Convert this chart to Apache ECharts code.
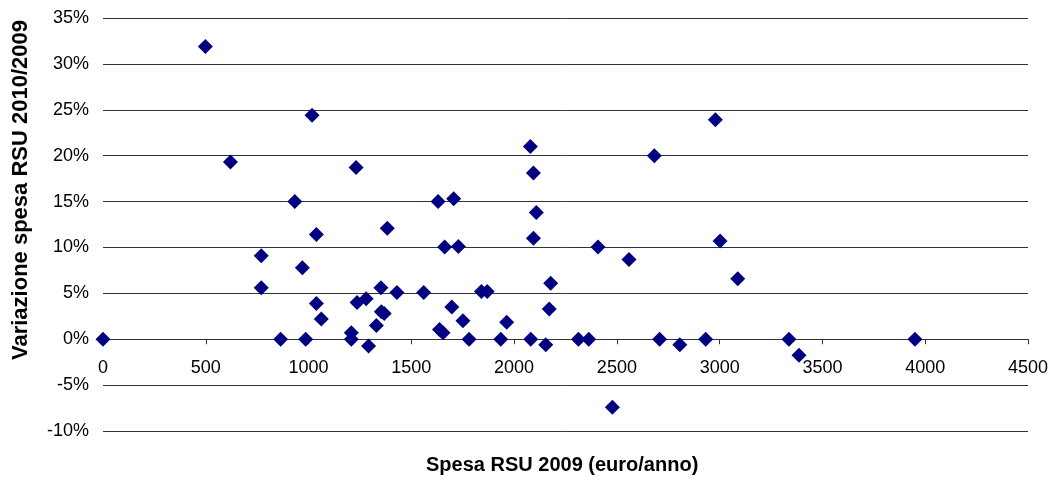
<!DOCTYPE html>
<html>
<head>
<meta charset="utf-8">
<script src="https://cdn.jsdelivr.net/npm/echarts@6/dist/echarts.min.js"></script>
<style>
  html, body { margin: 0; padding: 0; background: #ffffff; }
  #chart { width: 1056px; height: 480px; }
</style>
</head>
<body>
<div id="chart"></div>
<script>
// Spesa RSU 2009 (euro/anno) per comune
const spesa2009 = [
  0, 498, 620, 770, 770, 864, 933, 970, 986, 1017,
  1038, 1038, 1062, 1208, 1208, 1231, 1236, 1280, 1292, 1330,
  1352, 1354, 1368, 1383, 1430, 1560, 1630, 1637, 1654, 1662,
  1697, 1706, 1729, 1751, 1781, 1841, 1869, 1935, 1964, 2079,
  2081, 2094, 2094, 2108, 2154, 2171, 2178, 2313, 2363, 2408,
  2478, 2559, 2682, 2708, 2806, 2932, 2979, 3002, 3088, 3337,
  3386, 3950
];
// Variazione spesa RSU 2010/2009 (%)
const variazione = [
  0, 31.9, 19.3, 9.1, 5.6, 0, 15.0, 7.8, 0, 24.4,
  11.4, 3.9, 2.2, 0.7, 0, 18.7, 4.0, 4.4, -0.75, 1.5,
  5.6, 3.0, 2.8, 12.1, 5.1, 5.1, 15.0, 1.05, 0.7, 10.05,
  3.5, 15.3, 10.1, 2.0, 0, 5.2, 5.2, 0, 1.85, 21.0,
  0, 18.1, 11.0, 13.8, -0.6, 3.3, 6.1, 0, 0, 10.05,
  -7.4, 8.7, 20.0, 0, -0.6, 0, 23.9, 10.7, 6.6, 0,
  -1.75, 0
];
const xTitle = 'Spesa RSU 2009 (euro/anno)';
const yTitle = 'Variazione spesa RSU 2010/2009';

const X_MIN = 0, X_MAX = 4500, X_STEP = 500;
const Y_MIN = -10, Y_MAX = 35, Y_STEP = 5;

const points = spesa2009.map((x, i) => [x, variazione[i]]);
const FONT = '"Liberation Sans", Arial, sans-serif';

// plot box
const GRID = { left: 103, right: 28, top: 18, bottom: 49 };
const plotH = 480 - GRID.top - GRID.bottom;
// the horizontal axis sits on the 0% line: shift it up from the bottom edge
const zeroShift = plotH * (0 - Y_MIN) / (Y_MAX - Y_MIN);

const chart = echarts.init(document.getElementById('chart'), null, { renderer: 'canvas' });
chart.setOption({
  animation: false,
  backgroundColor: '#ffffff',
  grid: Object.assign({ containLabel: false }, GRID),
  xAxis: {
    type: 'value',
    min: X_MIN, max: X_MAX, interval: X_STEP,
    offset: -zeroShift,
    axisLine: { show: true, onZero: false, lineStyle: { color: '#333333', width: 1 } },
    axisTick: { show: true, length: 5, lineStyle: { color: '#333333' } },
    axisLabel: { color: '#000000', fontFamily: FONT, fontSize: 18, margin: 20, formatter: v => String(v) },
    splitLine: { show: false }
  },
  yAxis: {
    type: 'value',
    min: Y_MIN, max: Y_MAX, interval: Y_STEP,
    axisLine: { show: false },
    axisTick: { show: false },
    axisLabel: { color: '#000000', fontFamily: FONT, fontSize: 18, margin: 14, formatter: '{value}%' },
    splitLine: { show: true, lineStyle: { color: '#333333', width: 1 } }
  },
  graphic: [
    {
      type: 'text',
      left: 566 - 140, top: 455,
      style: { text: xTitle, font: 'bold 20px ' + FONT, fill: '#000000', width: 280, align: 'center' }
    },
    {
      type: 'text',
      x: 21, y: 190,
      rotation: Math.PI / 2,
      style: { text: yTitle, font: 'bold 22px ' + FONT, fill: '#000000', align: 'center', verticalAlign: 'middle' }
    }
  ],
  series: [{
    type: 'scatter',
    data: points,
    symbol: 'diamond',
    symbolSize: 15,
    itemStyle: { color: '#000080', opacity: 1 }
  }]
});
</script>
</body>
</html>
